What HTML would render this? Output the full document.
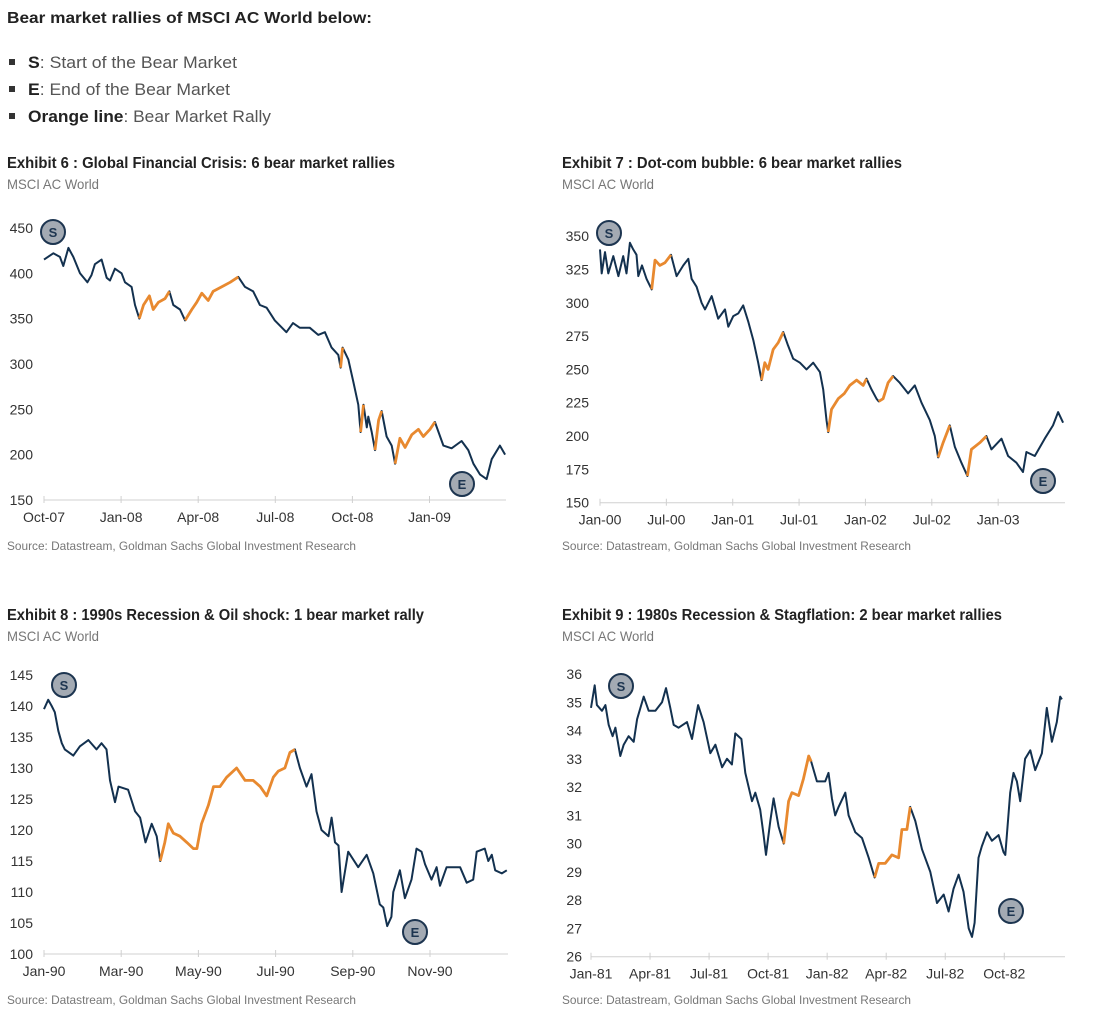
<!DOCTYPE html>
<html><head><meta charset="utf-8"><style>
body{margin:0;background:#fff;width:1094px;height:1022px;overflow:hidden;font-family:"Liberation Sans",sans-serif}
svg text{font-family:"Liberation Sans Narrow","Liberation Sans",sans-serif}
</style></head><body>
<svg id="page" width="1094" height="1022" xmlns="http://www.w3.org/2000/svg">
<text x="7" y="23" font-size="16" font-weight="bold" fill="#222" textLength="365" lengthAdjust="spacingAndGlyphs">Bear market rallies of MSCI AC World below:</text>
<g font-size="17" fill="#555">
<rect x="9" y="59" width="6" height="6" fill="#333"/><text x="28" y="68" textLength="209" lengthAdjust="spacingAndGlyphs"><tspan font-weight="bold" fill="#222">S</tspan>: Start of the Bear Market</text>
<rect x="9" y="86" width="6" height="6" fill="#333"/><text x="28" y="95" textLength="202" lengthAdjust="spacingAndGlyphs"><tspan font-weight="bold" fill="#222">E</tspan>: End of the Bear Market</text>
<rect x="9" y="113" width="6" height="6" fill="#333"/><text x="28" y="122" textLength="243" lengthAdjust="spacingAndGlyphs"><tspan font-weight="bold" fill="#222">Orange line</tspan>: Bear Market Rally</text>
</g>
</svg>
<script>
// ---- Chart 1: GFC (months since Oct-07) ----
const c1Months=[0,0.36,0.62,0.75,0.95,1.14,1.4,1.69,1.85,1.98,2.24,2.44,2.57,2.76,3.02,3.15,3.41,3.54,3.71,3.87,4.1,4.25,4.45,4.71,4.88,5.03,5.29,5.49,5.75,5.94,6.14,6.39,6.58,6.91,7.24,7.56,7.82,8.14,8.4,8.66,8.98,9.43,9.69,9.95,10.34,10.67,10.93,11.19,11.45,11.54,11.62,11.84,12.04,12.23,12.32,12.43,12.56,12.62,12.75,12.88,13.02,13.14,13.33,13.53,13.66,13.85,14.05,14.31,14.57,14.76,15.02,15.21,15.54,15.86,16.25,16.51,16.71,16.97,17.22,17.42,17.74,17.94];
const c1Values=[415,422,418,408,428,418,400,390,398,410,415,395,392,405,400,390,385,365,350,365,375,360,368,372,380,365,360,348,360,368,378,370,380,385,390,396,385,380,365,362,348,335,345,340,340,332,335,318,310,296,318,305,280,255,225,255,230,242,225,205,238,248,220,210,190,218,208,222,228,220,228,236,210,207,215,205,190,178,173,195,210,200];
const c1Rallies=[[3.71,4.88],[5.49,7.56],[11.54,11.62],[12.32,12.43],[12.88,13.14],[13.66,15.21]];
const c1YTicks=[150,200,250,300,350,400,450];
const c1XTickLabels=["Oct-07","Jan-08","Apr-08","Jul-08","Oct-08","Jan-09"];
const c1XTickMonths=[0,3,6,9,12,15];
// ---- Chart 2: Dot-com (months since Jan-00) ----
const c2Months=[0,0.15,0.45,0.75,1.2,1.66,2.1,2.4,2.7,3.0,3.3,3.46,3.8,4.2,4.67,4.97,5.42,5.87,6.42,6.93,7.53,7.98,8.28,8.73,9.19,9.49,10.1,10.69,11.3,11.6,12.05,12.5,12.95,13.4,13.86,14.3,14.6,14.9,15.2,15.66,16.11,16.57,17.0,17.47,18.07,18.67,19.28,19.88,20.18,20.48,20.63,20.93,21.54,22.1,22.59,23.2,23.8,24.1,24.55,25.0,25.2,25.6,26.05,26.5,27.1,27.86,28.46,29.07,29.82,30.27,30.57,31.02,31.63,32.08,32.68,33.22,33.58,34.34,34.94,35.39,36.3,36.9,37.65,38.25,38.55,39.31,40.21,40.96,41.42,41.87];
const c2Values=[340,322,338,322,335,320,335,322,345,340,336,320,328,318,310,332,328,330,336,320,328,333,318,312,300,295,305,288,295,282,290,292,298,286,272,255,242,255,250,265,270,278,268,258,255,250,255,248,235,212,203,220,228,232,238,242,238,243,235,228,226,228,240,245,240,232,238,225,212,200,184,195,208,192,180,170,190,195,200,190,198,185,180,173,188,185,198,208,218,210];
const c2Rallies=[[4.67,6.42],[14.6,16.57],[20.63,24.1],[25.2,26.5],[30.57,31.63],[33.22,34.94]];
const c2YTicks=[150,175,200,225,250,275,300,325,350];
const c2XTickLabels=["Jan-00","Jul-00","Jan-01","Jul-01","Jan-02","Jul-02","Jan-03"];
const c2XTickMonths=[0,6,12,18,24,30,36];
// ---- Chart 3: 1990 (months since Jan-90) ----
const c3Months=[0,0.11,0.2,0.28,0.37,0.46,0.54,0.76,0.93,1.15,1.36,1.49,1.62,1.71,1.84,1.93,2.18,2.36,2.49,2.63,2.79,2.92,3.01,3.13,3.22,3.35,3.52,3.7,3.87,3.96,4.08,4.26,4.39,4.56,4.73,4.99,5.21,5.42,5.6,5.77,5.94,6.07,6.24,6.37,6.5,6.63,6.8,6.93,7.06,7.19,7.37,7.45,7.54,7.63,7.71,7.88,8.14,8.36,8.53,8.7,8.79,8.89,9.0,9.05,9.22,9.35,9.52,9.65,9.78,9.87,10.04,10.17,10.26,10.43,10.6,10.78,10.95,11.12,11.21,11.42,11.51,11.6,11.69,11.86,11.99];
const c3Values=[139.5,141,140,139,136,134,133,132,133.5,134.5,133,134,133,128,124.5,127,126.5,123,122,118,121,119,115,118,121,119.5,119,118,117,117,121,124,127,127,128.5,130,128,128,127,125.5,128.5,129.5,130,132.5,133,130,127,129,123,120,119,122,118,117.5,110,116.5,114,116,113,108,107.5,104.5,106,110,113.5,109,112,117,116.5,114.5,112,114,111,114,114,114,111.5,112,116.5,117,115,116,113.5,113,113.5];
const c3Rallies=[[3.01,6.5]];
const c3YTicks=[100,105,110,115,120,125,130,135,140,145];
const c3XTickLabels=["Jan-90","Mar-90","May-90","Jul-90","Sep-90","Nov-90"];
const c3XTickMonths=[0,2,4,6,8,10];
// ---- Chart 4: 1980s (months since Jan-81) ----
const c4Months=[0,0.19,0.3,0.56,0.73,0.9,1.1,1.24,1.49,1.66,1.91,2.17,2.34,2.68,2.93,3.27,3.61,3.81,4.03,4.2,4.45,4.88,5.13,5.44,5.72,6.06,6.32,6.66,6.91,7.16,7.33,7.64,7.84,8.18,8.35,8.6,8.77,8.89,9.11,9.28,9.53,9.79,10.04,10.21,10.55,10.8,11.06,11.19,11.48,11.9,12.07,12.24,12.41,12.58,12.92,13.09,13.43,13.77,14.11,14.41,14.62,14.95,15.29,15.63,15.8,16.05,16.22,16.48,16.82,17.24,17.58,17.92,18.17,18.42,18.68,18.93,19.19,19.36,19.49,19.69,19.86,20.12,20.37,20.71,20.96,21.05,21.3,21.47,21.64,21.81,22.06,22.32,22.57,22.91,23.16,23.42,23.67,23.84,23.93];
const c4Values=[34.8,35.6,34.9,34.7,34.9,34.2,33.8,34.1,33.1,33.5,33.8,33.6,34.4,35.2,34.7,34.7,35.0,35.5,34.8,34.2,34.1,34.3,33.7,34.9,34.3,33.2,33.5,32.7,33.0,32.8,33.9,33.7,32.5,31.5,31.8,31.2,30.3,29.6,30.8,31.6,30.6,30.0,31.5,31.8,31.7,32.3,33.1,32.9,32.2,32.2,32.5,31.6,31.0,31.3,31.8,31.0,30.4,30.2,29.5,28.8,29.3,29.3,29.6,29.5,30.5,30.5,31.3,30.8,29.8,29.0,27.9,28.2,27.6,28.4,28.9,28.3,27.0,26.7,27.2,29.5,29.9,30.4,30.1,30.3,29.7,29.6,31.8,32.5,32.2,31.5,33.0,33.3,32.6,33.2,34.8,33.6,34.3,35.2,35.1];
const c4Rallies=[[9.79,11.19],[14.41,16.22]];
const c4YTicks=[26,27,28,29,30,31,32,33,34,35,36];
const c4XTickLabels=["Jan-81","Apr-81","Jul-81","Oct-81","Jan-82","Apr-82","Jul-82","Oct-82"];
const c4XTickMonths=[0,3,6,9,12,15,18,21];

const NS="http://www.w3.org/2000/svg";
const svg=document.getElementById('page');
function mk(tag,attrs,parent){const e=document.createElementNS(NS,tag);for(const k in attrs)e.setAttribute(k,attrs[k]);(parent||svg).appendChild(e);return e;}

function drawChart(cfg){
  const g=mk('g',{});
  
  
  const t=mk('text',{x:cfg.tx,y:cfg.ty,'font-size':16,'font-weight':'bold',fill:'#222',textLength:cfg.titleW,lengthAdjust:'spacingAndGlyphs'},g);
  t.textContent=cfg.title;
  
  
  const st=mk('text',{x:cfg.tx,y:cfg.ty+21,'font-size':14,fill:'#777',textLength:92,lengthAdjust:'spacingAndGlyphs'},g);
  st.textContent='MSCI AC World';
  
  
  const src=mk('text',{x:cfg.tx,y:cfg.srcY,'font-size':12,fill:'#777',textLength:349,lengthAdjust:'spacingAndGlyphs'},g);
  src.textContent='Source: Datastream, Goldman Sachs Global Investment Research';
  
  
  const X=m=>cfg.x0+m*cfg.pxm;
  const Y=v=>cfg.yBase-(v-cfg.yMin)*cfg.pyu;
  const ax=mk('line',{x1:cfg.x0,x2:cfg.xEnd,y1:Y(cfg.yMin),y2:Y(cfg.yMin),stroke:'#d0d0d0','stroke-width':1},g);
  
  
  cfg.yTicks.forEach(v=>{
    const l=mk('text',{x:cfg.yLabelX,y:Y(v)+5,'font-size':14,fill:'#333','text-anchor':'end'},g);
    l.textContent=v;
    
    
  });
  cfg.xMonths.forEach((m,i)=>{
    const tk=mk('line',{x1:X(m),x2:X(m),y1:Y(cfg.yMin)-4,y2:Y(cfg.yMin)+3,stroke:'#d0d0d0'},g);
    
    
    const l=mk('text',{x:X(m),y:Y(cfg.yMin)+22,'font-size':14,fill:'#333','text-anchor':'middle'},g);
    l.textContent=cfg.xLabels[i];
    
    
  });
  const pts=cfg.months.map((m,i)=>[X(m),Y(cfg.values[i])]);
  const line=mk('path',{d:'M'+pts.map(p=>p[0].toFixed(1)+','+p[1].toFixed(1)).join('L'),fill:'none',stroke:'#13314f','stroke-width':2,'stroke-linejoin':'round'},g);
  
  
  cfg.rallies.forEach(r=>{
    const sel=pts.filter((p,i)=>cfg.months[i]>=r[0]-1e-6&&cfg.months[i]<=r[1]+1e-6);
    if(sel.length<2)return;
    const o=mk('path',{d:'M'+sel.map(p=>p[0].toFixed(1)+','+p[1].toFixed(1)).join('L'),fill:'none',stroke:'#e8892f','stroke-width':2.8,'stroke-linejoin':'round'},g);
    
    
  });
  [['S',cfg.s],['E',cfg.e]].forEach(([lab,p])=>{
    const c=mk('circle',{cx:p[0],cy:p[1],r:12,fill:'#a3aab3',stroke:'#1d3550','stroke-width':2},g);
    
    
    const tx=mk('text',{x:p[0],y:p[1]+5,'font-size':13,'font-weight':'bold',fill:'#1d3550','text-anchor':'middle'},g);
    tx.textContent=lab;
    
    
  });
}
drawChart({name:'chart-gfc',title:'Exhibit 6 : Global Financial Crisis: 6 bear market rallies',titleW:388,tx:7,ty:168,srcY:550,
  x0:44,pxm:25.7,xEnd:506,yMin:150,yBase:500,pyu:0.907,yLabelX:33,
  months:c1Months,values:c1Values,rallies:c1Rallies,yTicks:c1YTicks,xLabels:c1XTickLabels,xMonths:c1XTickMonths,s:[53,232],e:[462,484]});
drawChart({name:'chart-dotcom',title:'Exhibit 7 : Dot-com bubble: 6 bear market rallies',titleW:340,tx:562,ty:168,srcY:550,
  x0:600,pxm:11.06,xEnd:1065,yMin:150,yBase:502.7,pyu:1.333,yLabelX:589,
  months:c2Months,values:c2Values,rallies:c2Rallies,yTicks:c2YTicks,xLabels:c2XTickLabels,xMonths:c2XTickMonths,s:[609,233],e:[1043,481]});
drawChart({name:'chart-1990',title:'Exhibit 8 : 1990s Recession & Oil shock: 1 bear market rally',titleW:417,tx:7,ty:620,srcY:1004,
  x0:44,pxm:38.6,xEnd:508,yMin:100,yBase:954,pyu:6.2,yLabelX:33,
  months:c3Months,values:c3Values,rallies:c3Rallies,yTicks:c3YTicks,xLabels:c3XTickLabels,xMonths:c3XTickMonths,s:[64,685],e:[415,932]});
drawChart({name:'chart-1980s',title:'Exhibit 9 : 1980s Recession & Stagflation: 2 bear market rallies',titleW:440,tx:562,ty:620,srcY:1004,
  x0:591,pxm:19.68,xEnd:1065,yMin:26,yBase:956.7,pyu:28.27,yLabelX:582,
  months:c4Months,values:c4Values,rallies:c4Rallies,yTicks:c4YTicks,xLabels:c4XTickLabels,xMonths:c4XTickMonths,s:[621,686],e:[1011,911]});
</script>
</body></html>
